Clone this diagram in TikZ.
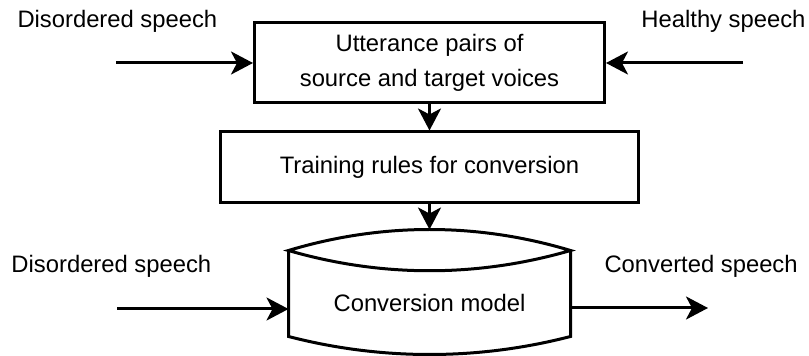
\documentclass[tikz,border=0pt]{standalone}
\usepackage{fontspec}
\setmainfont{Liberation Sans}
\usetikzlibrary{arrows.meta}
\newcommand{\diagfont}{\fontsize{23.8}{34.5}\selectfont}
\begin{document}
\begin{tikzpicture}[x=1pt, y=1pt, line width=3pt,
		>={Stealth[length=22pt, width=23pt, inset=6pt]},
		every node/.style={font=\diagfont, inner sep=0pt},
		procbox/.style={draw, align=center, line width=3pt}]
	\useasboundingbox (0,0) rectangle (809,356);
	
	% 1. 上方两个处理框
	\node[procbox, minimum width=350, minimum height=80] (pairs) at (429.5,293)
		{Utterance pairs of\\source and target voices};
	\node[procbox, minimum width=418, minimum height=71] (rules) at (429.5,188.5)
		{Training rules for conversion};
	
	% 2. 转换模型 (鼓形外框)
	\node[minimum width=279, minimum height=83] (model) at (429.5,62.5) {};
	\node (modelname) at (429.5,53) {Conversion model};
	\draw (model.north west) .. controls ([shift={(93,28)}]model.north west) and ([shift={(-93,28)}]model.north east) .. (model.north east)
		.. controls ([shift={(-93,-27)}]model.north east) and ([shift={(93,-27)}]model.north west) .. cycle;
	\draw (model.north west) -- (model.south west)
		.. controls ([shift={(93,-24)}]model.south west) and ([shift={(-93,-24)}]model.south east) .. (model.south east)
		-- (model.north east);
	\coordinate (modeltop) at ([yshift=21]model.north);
	
	% 3. 输入输出标签
	\node[anchor=base west] (dis1) at (16,328) {Disordered speech};
	\node[anchor=base east] (healthy) at (807,328) {Healthy speech};
	\node[anchor=base west] (dis2) at (10,83) {Disordered speech};
	\node[anchor=base west] (conv) at (603,83) {Converted speech};
	
	% 4. 箭头
	\coordinate (in1) at (116,293);
	\coordinate (in2) at (743,293);
	\coordinate (in3) at (117,47);
	\coordinate (out) at (708,48);
	\draw[->] (in1) -- (pairs.west);
	\draw[->] (in2) -- (pairs.east);
	\draw[->] (pairs) -- (rules);
	\draw[->] (rules) -- (modeltop);
	\draw[->] (in3) -- (in3 -| model.west);
	\draw[->] (model.east |- out) -- (out);
\end{tikzpicture}
\end{document}
